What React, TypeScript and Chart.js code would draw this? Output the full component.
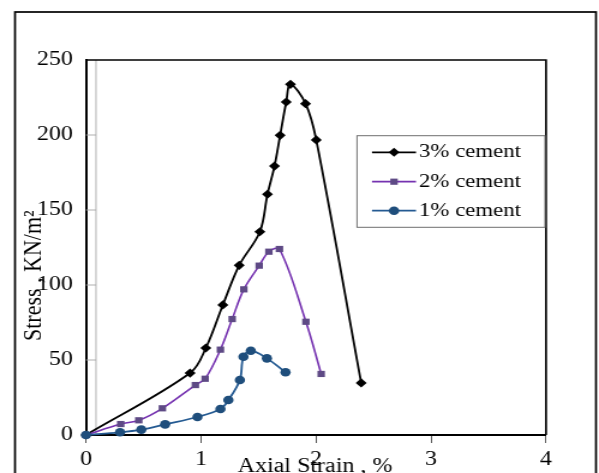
import React, { useEffect, useRef } from "react";
import { Chart, registerables } from "chart.js";

Chart.register(...registerables);

// ---------- data ----------
const seriesLabels = ["3% cement", "2% cement", "1% cement"];

const strain3 = [0, 0.905, 1.042, 1.19, 1.332, 1.512, 1.578, 1.639, 1.688, 1.741, 1.778, 1.909, 2.002, 2.393];
const stress3 = [0, 41.3, 58, 86.7, 113.1, 135.5, 160.5, 179.3, 199.8, 222, 233.8, 220.9, 196.7, 34.7];

const strain2 = [0, 0.302, 0.459, 0.664, 0.951, 1.036, 1.169, 1.271, 1.372, 1.506, 1.59, 1.682, 1.912, 2.045];
const stress2 = [0, 7.3, 9.8, 17.8, 33.3, 37.5, 56.9, 77.3, 97.1, 112.9, 122.2, 124, 75.5, 40.7];

const strain1 = [0, 0.296, 0.481, 0.688, 0.969, 1.169, 1.238, 1.338, 1.369, 1.433, 1.573, 1.735];
const stress1 = [0, 1.8, 3.6, 7.1, 12, 17.3, 23.3, 36.7, 52.2, 56.2, 51.1, 41.8];

const xTicks = [0, 1, 2, 3, 4];
const yTicks = [0, 50, 100, 150, 200, 250];

const xTitle = "Axial Strain , %";
const yTitle = "Stress , KN/m\u00B2";

// ---------- layout ----------
const W = 499; // intrinsic canvas width (stretched to 599 on screen)
const H = 473;
const K = 599 / W;
const px = (screenX: number) => screenX / K;

const FONT = "'Liberation Serif', 'Times New Roman', serif";

const colors = {
  black: "#000000",
  purpleLine: "#7532b0",
  purpleMark: "#5e4a85",
  blueLine: "#245a92",
  blueMark: "#1f4e7c",
};

const zip = (xs: number[], ys: number[]) => xs.map((x, i) => ({ x, y: ys[i] }));

const legendItems = [
  { text: seriesLabels[0], line: colors.black, mark: colors.black, shape: "diamond" },
  { text: seriesLabels[1], line: colors.purpleLine, mark: colors.purpleMark, shape: "square" },
  { text: seriesLabels[2], line: colors.blueLine, mark: colors.blueMark, shape: "circle" },
];

function drawMarker(ctx: CanvasRenderingContext2D, shape: string, x: number, y: number, color: string) {
  ctx.fillStyle = color;
  ctx.beginPath();
  if (shape === "diamond") {
    const r = 4.5;
    ctx.moveTo(x, y - r);
    ctx.lineTo(x + r, y);
    ctx.lineTo(x, y + r);
    ctx.lineTo(x - r, y);
    ctx.closePath();
  } else if (shape === "square") {
    const h = 3.1;
    ctx.rect(x - h, y - h, 2 * h, 2 * h);
  } else {
    ctx.arc(x, y, 4.3, 0, Math.PI * 2);
  }
  ctx.fill();
}

const decor = {
  id: "decor",
  beforeDatasetsDraw(chart: any) {
    const { ctx, chartArea: a, scales } = chart;
    ctx.save();
    // faint inner gray axis and inner y tick marks
    ctx.strokeStyle = "#a6a6a6";
    ctx.lineWidth = 0.9;
    const gx = a.left + px(10);
    ctx.beginPath();
    ctx.moveTo(gx, a.top);
    ctx.lineTo(gx, a.bottom);
    for (const v of yTicks) {
      if (v > 0 && v < 250) {
        const y = scales.y.getPixelForValue(v);
        ctx.moveTo(a.left, y);
        ctx.lineTo(gx, y);
      }
    }
    ctx.stroke();
    // top and right plot borders
    ctx.strokeStyle = "#000";
    ctx.lineWidth = 1.7;
    ctx.beginPath();
    ctx.moveTo(a.left, a.top);
    ctx.lineTo(a.right, a.top);
    ctx.lineTo(a.right, a.bottom);
    ctx.stroke();
    ctx.restore();
  },
  afterDraw(chart: any) {
    const { ctx } = chart;
    ctx.save();
    // outer frame
    ctx.strokeStyle = "#000";
    ctx.lineWidth = 1.7;
    ctx.strokeRect(px(15), 12, px(596) - px(15), 520);

    // legend
    const bx = px(357), by = 135.7, bw = px(545) - px(357), bh = 91.6;
    ctx.fillStyle = "#fff";
    ctx.fillRect(bx, by, bw, bh);
    ctx.strokeStyle = "#6e6e6e";
    ctx.lineWidth = 1;
    ctx.strokeRect(bx, by, bw, bh);
    const rows = [152.3, 181.7, 210.7];
    legendItems.forEach((it, i) => {
      const y = rows[i];
      ctx.strokeStyle = it.line;
      ctx.lineWidth = 1.7;
      ctx.beginPath();
      ctx.moveTo(px(372), y);
      ctx.lineTo(px(416), y);
      ctx.stroke();
      drawMarker(ctx, it.shape, px(394), y, it.mark);
      ctx.fillStyle = "#000";
      ctx.font = `19px ${FONT}`;
      ctx.textAlign = "left";
      ctx.textBaseline = "middle";
      ctx.fillText(it.text, px(419), y);
    });

    // axis titles
    ctx.fillStyle = "#000";
    ctx.font = `20px ${FONT}`;
    ctx.textAlign = "center";
    ctx.textBaseline = "alphabetic";
    ctx.fillText(xTitle, px(315), 471.5);

    ctx.save();
    ctx.font = `22px ${FONT}`;
    ctx.translate(px(41), 341);
    ctx.rotate(-Math.PI / 2);
    ctx.textAlign = "left";
    ctx.textBaseline = "alphabetic";
    ctx.fillText(yTitle, 0, 0);
    ctx.restore();

    ctx.restore();
  },
};

export default function App() {
  const ref = useRef<HTMLCanvasElement>(null);

  useEffect(() => {
    if (!ref.current) return;
    Chart.defaults.font.family = FONT;
    const chart = new Chart(ref.current, {
      type: "scatter",
      data: {
        datasets: [
          {
            label: seriesLabels[0],
            data: zip(strain3, stress3),
            showLine: true,
            borderColor: colors.black,
            backgroundColor: colors.black,
            pointStyle: "rectRot",
            pointRadius: 4.6,
            pointBorderWidth: 0,
            pointBackgroundColor: colors.black,
            borderWidth: 1.8,
            tension: 0.35,
            clip: false,
            order: 2,
          },
          {
            label: seriesLabels[1],
            data: zip(strain2, stress2),
            showLine: true,
            borderColor: colors.purpleLine,
            backgroundColor: colors.purpleMark,
            pointStyle: "rect",
            pointRadius: 4.4,
            pointBorderWidth: 0,
            pointBackgroundColor: colors.purpleMark,
            borderWidth: 1.6,
            tension: 0.35,
            clip: false,
            order: 1,
          },
          {
            label: seriesLabels[2],
            data: zip(strain1, stress1),
            showLine: true,
            borderColor: colors.blueLine,
            backgroundColor: colors.blueMark,
            pointStyle: "circle",
            pointRadius: 4.3,
            pointBorderWidth: 0,
            pointBackgroundColor: colors.blueMark,
            borderWidth: 1.8,
            tension: 0.35,
            clip: false,
            order: 0,
          },
        ],
      },
      options: {
        responsive: false,
        animation: false,
        events: [],
        layout: { padding: { top: 60, right: W - px(546), bottom: 0, left: 0 } },
        plugins: {
          legend: { display: false },
          tooltip: { enabled: false },
          title: { display: false },
        },
        scales: {
          x: {
            type: "linear",
            min: 0,
            max: 4,
            afterBuildTicks: (s: any) => {
              s.ticks = xTicks.map((v) => ({ value: v }));
            },
            afterFit: (s: any) => {
              s.height = H - 435;
            },
            ticks: {
              font: { size: 20, family: FONT },
              color: "#000",
              padding: 5,
              maxRotation: 0,
              autoSkip: false,
            },
            grid: {
              display: true,
              drawOnChartArea: false,
              drawTicks: true,
              tickLength: 8,
              tickColor: "#5a5a5a",
              tickWidth: 1,
            },
            border: { display: true, color: "#000", width: 2 },
            title: { display: false },
          },
          y: {
            type: "linear",
            min: 0,
            max: 250,
            afterBuildTicks: (s: any) => {
              s.ticks = yTicks.map((v) => ({ value: v }));
            },
            afterFit: (s: any) => {
              s.width = px(86);
            },
            ticks: {
              font: { size: 20, family: FONT },
              color: "#000",
              padding: 10.9,
              autoSkip: false,
            },
            grid: { display: false, drawTicks: false, tickLength: 0 },
            border: { display: true, color: "#000", width: 2 },
            title: { display: false },
          },
        },
      },
      plugins: [decor],
    } as any);
    return () => chart.destroy();
  }, []);

  return (
    <div style={{ position: "fixed", left: 0, top: 0, width: 599, height: 473, background: "#fff", overflow: "hidden" }}>
      <canvas
        ref={ref}
        width={W}
        height={H}
        style={{ display: "block", width: "599px", height: "473px" }}
      />
    </div>
  );
}
